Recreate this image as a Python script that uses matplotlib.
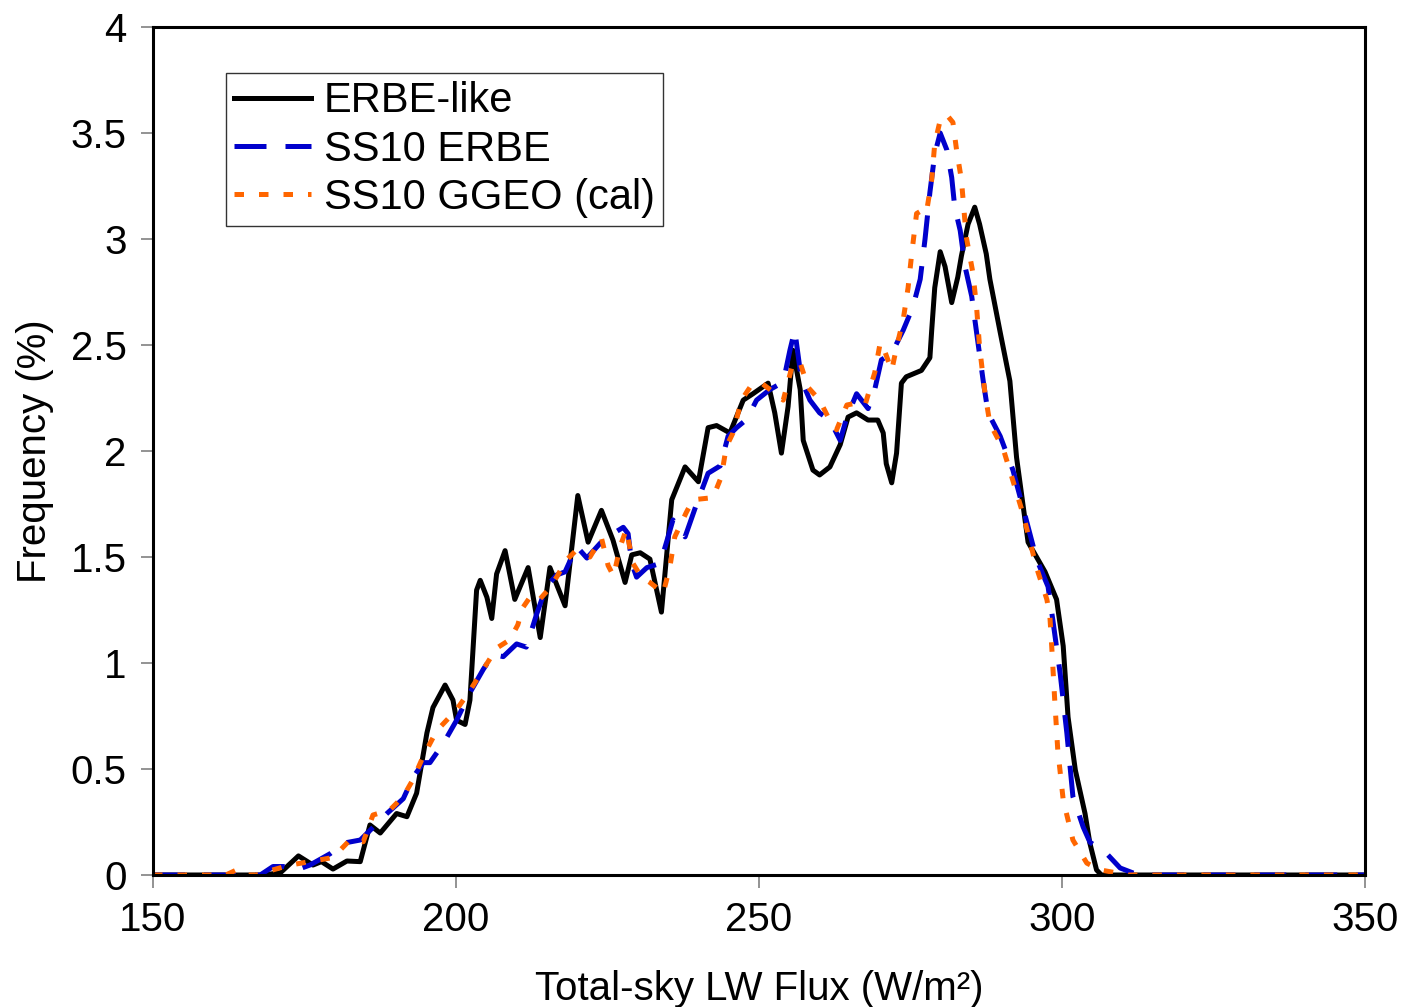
import matplotlib
matplotlib.use("Agg")
import matplotlib.pyplot as plt

plt.rcParams["font.family"] = ["Liberation Sans", "DejaVu Sans"]

# ERBE-like (black, solid)
erbe_x = [150, 168, 171, 174, 176.4, 177.8, 179.7, 182, 184.2, 185.8, 187.5, 190.2,
          191.9, 193.5, 195.2, 196.2, 198.2, 199.5, 200.1, 201.5, 202.3, 203.4, 204,
          205.1, 205.9, 206.7, 208.1, 209.7, 211.9, 213.9, 215.5, 218, 220.1, 221.8,
          224, 225.9, 227.9, 229, 230.4, 232, 233.9, 235.6, 237.8, 240, 241.6, 243,
          245.2, 247.4, 249, 251.5, 252.6, 253.7, 254.8, 255.6, 256.8, 257.3, 258.9,
          260, 261.7, 263.4, 264.7, 266.1, 268, 269.6, 270.5, 271, 271.9, 272.7,
          273.5, 274.3, 276.8, 278.2, 278.5, 279, 279.9, 280.7, 281.8, 282.8, 283.4,
          284.5, 285.6, 286.4, 287.5, 288.1, 289.8, 291.4, 292.5, 294.4, 297.2,
          299.1, 300.2, 301, 302.2, 303.8, 304.6, 305.7, 306.5, 350]
erbe_y = [0, 0, 0.01, 0.09, 0.047, 0.063, 0.028, 0.066, 0.063, 0.236, 0.198, 0.29,
          0.275, 0.386, 0.67, 0.79, 0.896, 0.825, 0.73, 0.71, 0.825, 1.344, 1.39,
          1.31, 1.21, 1.42, 1.53, 1.30, 1.45, 1.12, 1.45, 1.27, 1.79, 1.57,
          1.72, 1.58, 1.38, 1.51, 1.52, 1.49, 1.24, 1.77, 1.925, 1.855, 2.11, 2.12,
          2.085, 2.24, 2.27, 2.32, 2.18, 1.99, 2.21, 2.475, 2.29, 2.05, 1.91,
          1.887, 1.925, 2.03, 2.16, 2.18, 2.146, 2.146, 2.085, 1.94, 1.85, 1.99,
          2.32, 2.35, 2.38, 2.44, 2.57, 2.77, 2.94, 2.87, 2.70, 2.82, 2.92,
          3.07, 3.15, 3.07, 2.93, 2.81, 2.56, 2.33, 1.97, 1.57, 1.43,
          1.30, 1.08, 0.745, 0.495, 0.29, 0.15, 0.024, 0, 0]

# SS10 ERBE (blue, dashed)
ss10_x = [150, 167.7, 169.8, 171.5, 173.7, 175.9, 179.2, 181.4, 184.2, 185.8, 188.6,
          191.3, 192.9, 194.6, 195.7, 197.9, 200.1, 202.3, 204.5, 206.1, 207.8, 210,
          211.6, 213.3, 214.9, 216.6, 218, 219.9, 221.6, 223.8, 225.9, 227.6, 228.4,
          229, 229.8, 231.5, 233.7, 235, 235.8, 237.8, 239.7, 241.6, 243.6, 244.9,
          246.3, 248, 249.6, 251.8, 254, 255.1, 255.9, 257, 258.4, 260, 261.7, 263.4,
          264.5, 266.1, 268, 269.1, 270.2, 271.9, 273.8, 275.4, 276.6, 277.4, 278.2,
          279, 279.9, 281, 281.8, 282.3, 283.2, 284, 285.1, 285.9, 287, 287.8, 289.8,
          291.9, 294.1, 295.8, 297.7, 298.5, 299.7, 300.8, 301.8, 303.5, 304.6,
          307.4, 309.6, 311.7, 313, 350]
ss10_y = [0, 0, 0.04, 0.04, 0.024, 0.047, 0.10, 0.15, 0.165, 0.21, 0.29,
          0.36, 0.46, 0.53, 0.53, 0.62, 0.73, 0.86, 0.97, 1.04, 1.03, 1.09,
          1.075, 1.23, 1.36, 1.415, 1.43, 1.55, 1.495, 1.565, 1.61, 1.64, 1.61,
          1.47, 1.405, 1.45, 1.47, 1.595, 1.675, 1.595, 1.75, 1.895, 1.93, 2.07,
          2.11, 2.15, 2.24, 2.29, 2.325, 2.475, 2.57, 2.335, 2.24, 2.18, 2.146, 2.05,
          2.16, 2.27, 2.20, 2.29, 2.43, 2.46, 2.57, 2.68, 2.81, 3.0, 3.22,
          3.40, 3.50, 3.42, 3.29, 3.15, 3.04, 2.87, 2.73, 2.56, 2.33, 2.18, 2.07,
          1.91, 1.675, 1.49, 1.36, 1.20, 0.95, 0.67, 0.37, 0.226, 0.155,
          0.10, 0.033, 0.01, 0, 0]

# SS10 GGEO (cal) (orange, dotted)
ggeo_x = [150, 162, 163.8, 165.5, 167, 168.8, 172.6, 175.9, 179.2, 180.3, 182.5, 184.7,
          186.3, 189.1, 191.3, 192.9, 194.6, 196.8, 200.1, 202.3, 204.5, 206.7, 208.9,
          210.2, 211, 212.2, 213.5, 215.2, 216.6, 218.2, 219.6, 222.1, 224, 225.1, 226,
          227.1, 228.1, 229.2, 230.6, 232, 234.2, 235.3, 236.1, 238, 239.1, 242.4,
          243.8, 244.6, 245.7, 247.1, 248.5, 250.2, 251.8, 254, 255.6, 256.8, 258.1,
          260, 261.4, 262.8, 264.5, 266.1, 267.5, 269.1, 270, 270.5, 271.9, 272.7,
          273.8, 274.6, 275.2, 276, 276.6, 277.6, 278.5, 279, 279.9, 281, 282, 282.6,
          283.4, 284.2, 285.3, 285.9, 286.4, 287.3, 288.1, 290.3, 291.9, 293.6, 295.8,
          297.5, 298, 298.3, 298.8, 299.3, 300.2, 301.8, 304.1, 306.3, 309, 311, 350]
ggeo_y = [0, 0, 0.024, 0, 0, 0.016, 0.047, 0.063, 0.08, 0.10, 0.165, 0.157,
          0.283, 0.307, 0.37, 0.45, 0.56, 0.68, 0.78, 0.87, 0.97, 1.07, 1.11,
          1.18, 1.26, 1.31, 1.29, 1.345, 1.405, 1.485, 1.525, 1.50, 1.59, 1.46, 1.41,
          1.55, 1.63, 1.47, 1.405, 1.38, 1.33, 1.455, 1.595, 1.71, 1.77, 1.78,
          1.88, 2.02, 2.085, 2.24, 2.30, 2.325, 2.29, 2.24, 2.415, 2.415, 2.30,
          2.24, 2.16, 2.10, 2.217, 2.226, 2.217, 2.37, 2.51, 2.49, 2.38, 2.49,
          2.62, 2.77, 2.93, 3.12, 3.13, 3.12, 3.28, 3.45, 3.56, 3.585, 3.55, 3.42,
          3.28, 3.01, 2.84, 2.68, 2.49, 2.27, 2.13, 2.01, 1.86, 1.70, 1.45,
          1.30, 1.22, 1.08, 0.825, 0.59, 0.354, 0.165, 0.056, 0.024, 0.01, 0, 0]

x_ticks = [150, 200, 250, 300, 350]
y_ticks = [0, 0.5, 1, 1.5, 2, 2.5, 3, 3.5, 4]
y_labels = ["0", "0.5", "1", "1.5", "2", "2.5", "3", "3.5", "4"]

W, H = 1403, 1007
fig = plt.figure(figsize=(W / 100, H / 100), dpi=100)
ax = fig.add_axes([153 / W, 1 - 875 / H, (1365 - 153) / W, (875 - 27) / H])

lw = 3.6
ax.plot(erbe_x, erbe_y, color="black", lw=lw, label="ERBE-like")
ax.plot(ss10_x, ss10_y, color="#0000CC", lw=lw, dashes=(6.4, 3.8), label="SS10 ERBE")
ax.plot(ggeo_x, ggeo_y, color="#FF6600", lw=lw, dashes=(1.9, 3.0), label="SS10 GGEO (cal)")

ax.set_xlim(150, 350)
ax.set_ylim(0, 4)
ax.set_xticks(x_ticks)
ax.set_yticks(y_ticks)
ax.set_yticklabels(y_labels)
ax.tick_params(axis="both", direction="out", length=9, width=1.2, color="#808080",
               labelsize=29, pad=10)
for s in ax.spines.values():
    s.set_linewidth(2.2)
    s.set_color("black")

ax.set_xlabel("Total-sky LW Flux (W/m²)", fontsize=29, labelpad=22)
ax.set_ylabel("Frequency (%)", fontsize=29, labelpad=12)

leg = ax.legend(loc="upper left", bbox_to_anchor=(0.0602, 0.9458), borderaxespad=0,
                fontsize=30, frameon=True, fancybox=False, handlelength=1.85,
                handletextpad=0.3, labelspacing=0.2, borderpad=0.2)
leg.get_frame().set_edgecolor("black")
leg.get_frame().set_linewidth(1.0)

fig.savefig("out.png", dpi=100)
